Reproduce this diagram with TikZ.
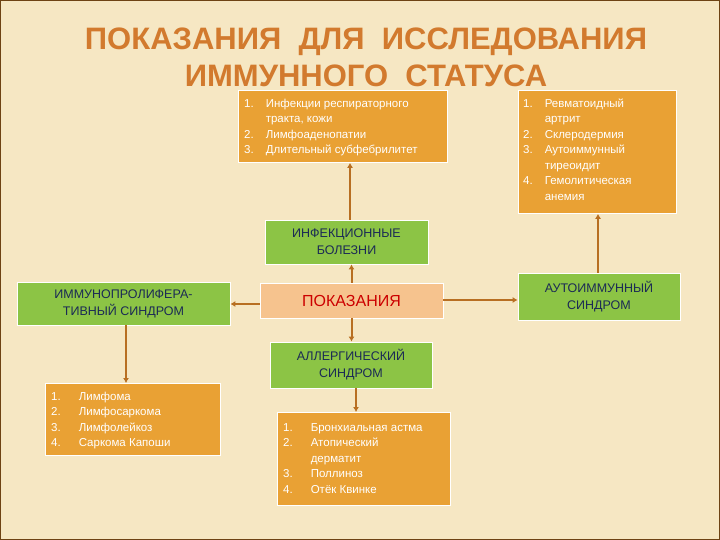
\documentclass[tikz,border=0pt]{standalone}
\usepackage{fontspec}
\setmainfont{Liberation Sans}
\usetikzlibrary{arrows.meta}
\definecolor{bg}{HTML}{F6E7C3}
\definecolor{org}{HTML}{E9A134}
\definecolor{grn}{HTML}{8CC445}
\definecolor{peach}{HTML}{F6C38E}
\definecolor{navy}{HTML}{1B2A55}
\definecolor{lin}{HTML}{B86F22}
\definecolor{ttl}{HTML}{D27A2E}
\begin{document}
\begin{tikzpicture}[x=1pt,y=-1pt,
 listbox/.style={draw=white,line width=0.8pt,fill=org,anchor=north west,inner sep=0pt},
 listtext/.style={anchor=north west,text=white,font=\fontsize{11.5}{15.5}\selectfont,align=left,inner sep=0pt},
 greenbox/.style={draw=white,line width=0.8pt,fill=grn,text=navy,align=center,font=\fontsize{12.5}{17}\selectfont,inner sep=0pt},
 conn/.style={draw=lin,line width=2pt,-{Latex[length=5pt,width=6pt]}}]
\fill[bg] (0,0) rectangle (720,540);
\draw[lin!60!black,line width=1pt] (0.5,0.5) rectangle (719.5,539.5);
\node[text=ttl,font=\bfseries\fontsize{31}{37}\selectfont,align=center] (title) at (366,57) {ПОКАЗАНИЯ\ \ ДЛЯ\ \ ИССЛЕДОВАНИЯ\\ИММУННОГО\ \ СТАТУСА};
% boxes
\node[listbox,minimum width=209,minimum height=72] (l1) at (238,90) {};
\node[listtext] (l1t) at (244,96) {\begin{tabular}{@{}l@{\hspace{12pt}}l@{}}1.&Инфекции респираторного\\&тракта, кожи\\2.&Лимфоаденопатии\\3.&Длительный субфебрилитет\end{tabular}};
\node[listbox,minimum width=158,minimum height=123] (l2) at (518,90) {};
\node[listtext] (l2t) at (523,96) {\begin{tabular}{@{}l@{\hspace{12pt}}l@{}}1.&Ревматоидный\\&артрит\\2.&Склеродермия\\3.&Аутоиммунный\\&тиреоидит\\4.&Гемолитическая\\&анемия\end{tabular}};
\node[greenbox,minimum width=163,minimum height=44] (inf) at (346.5,242) {ИНФЕКЦИОННЫЕ\\БОЛЕЗНИ};
\node[draw=white,line width=0.8pt,fill=peach,text=red!80!black,minimum width=183,minimum height=35,font=\fontsize{16}{18}\selectfont] (pok) at (351.5,300.5) {ПОКАЗАНИЯ};
\node[greenbox,minimum width=213,minimum height=43] (imm) at (123.5,303.5) {ИММУНОПРОЛИФЕРА-\\ТИВНЫЙ СИНДРОМ};
\node[greenbox,minimum width=162,minimum height=47] (aut) at (599,296.5) {АУТОИММУННЫЙ\\СИНДРОМ};
\node[greenbox,minimum width=162,minimum height=46] (all) at (351,365) {АЛЛЕРГИЧЕСКИЙ\\СИНДРОМ};
\node[listbox,minimum width=175,minimum height=72] (l3) at (45,383) {};
\node[listtext] (l3t) at (51,389) {\begin{tabular}{@{}l@{\hspace{18pt}}l@{}}1.&Лимфома\\2.&Лимфосаркома\\3.&Лимфолейкоз\\4.&Саркома Капоши\end{tabular}};
\node[listbox,minimum width=173,minimum height=93] (l4) at (277,412) {};
\node[listtext] (l4t) at (283,420) {\begin{tabular}{@{}l@{\hspace{18pt}}l@{}}1.&Бронхиальная астма\\2.&Атопический\\&дерматит\\3.&Поллиноз\\4.&Отёк Квинке\end{tabular}};
% connectors
\draw[conn] (pok.north) -- (inf.south -| pok.north);
\draw[conn] (inf.north -| 350,0) -- (l1.south -| 350,0);
\draw[conn] (pok.east |- 0,300) -- (aut.west |- 0,300);
\draw[conn] (pok.west |- 0,304) -- (imm.east |- 0,304);
\draw[conn] (pok.south) -- (all.north -| pok.south);
\draw[conn] (aut.north -| 598,0) -- (l2.south -| 598,0);
\draw[conn] (all.south -| 356,0) -- (l4.north -| 356,0);
\draw[conn] (imm.south -| 126,0) -- (l3.north -| 126,0);
\end{tikzpicture}
\end{document}
